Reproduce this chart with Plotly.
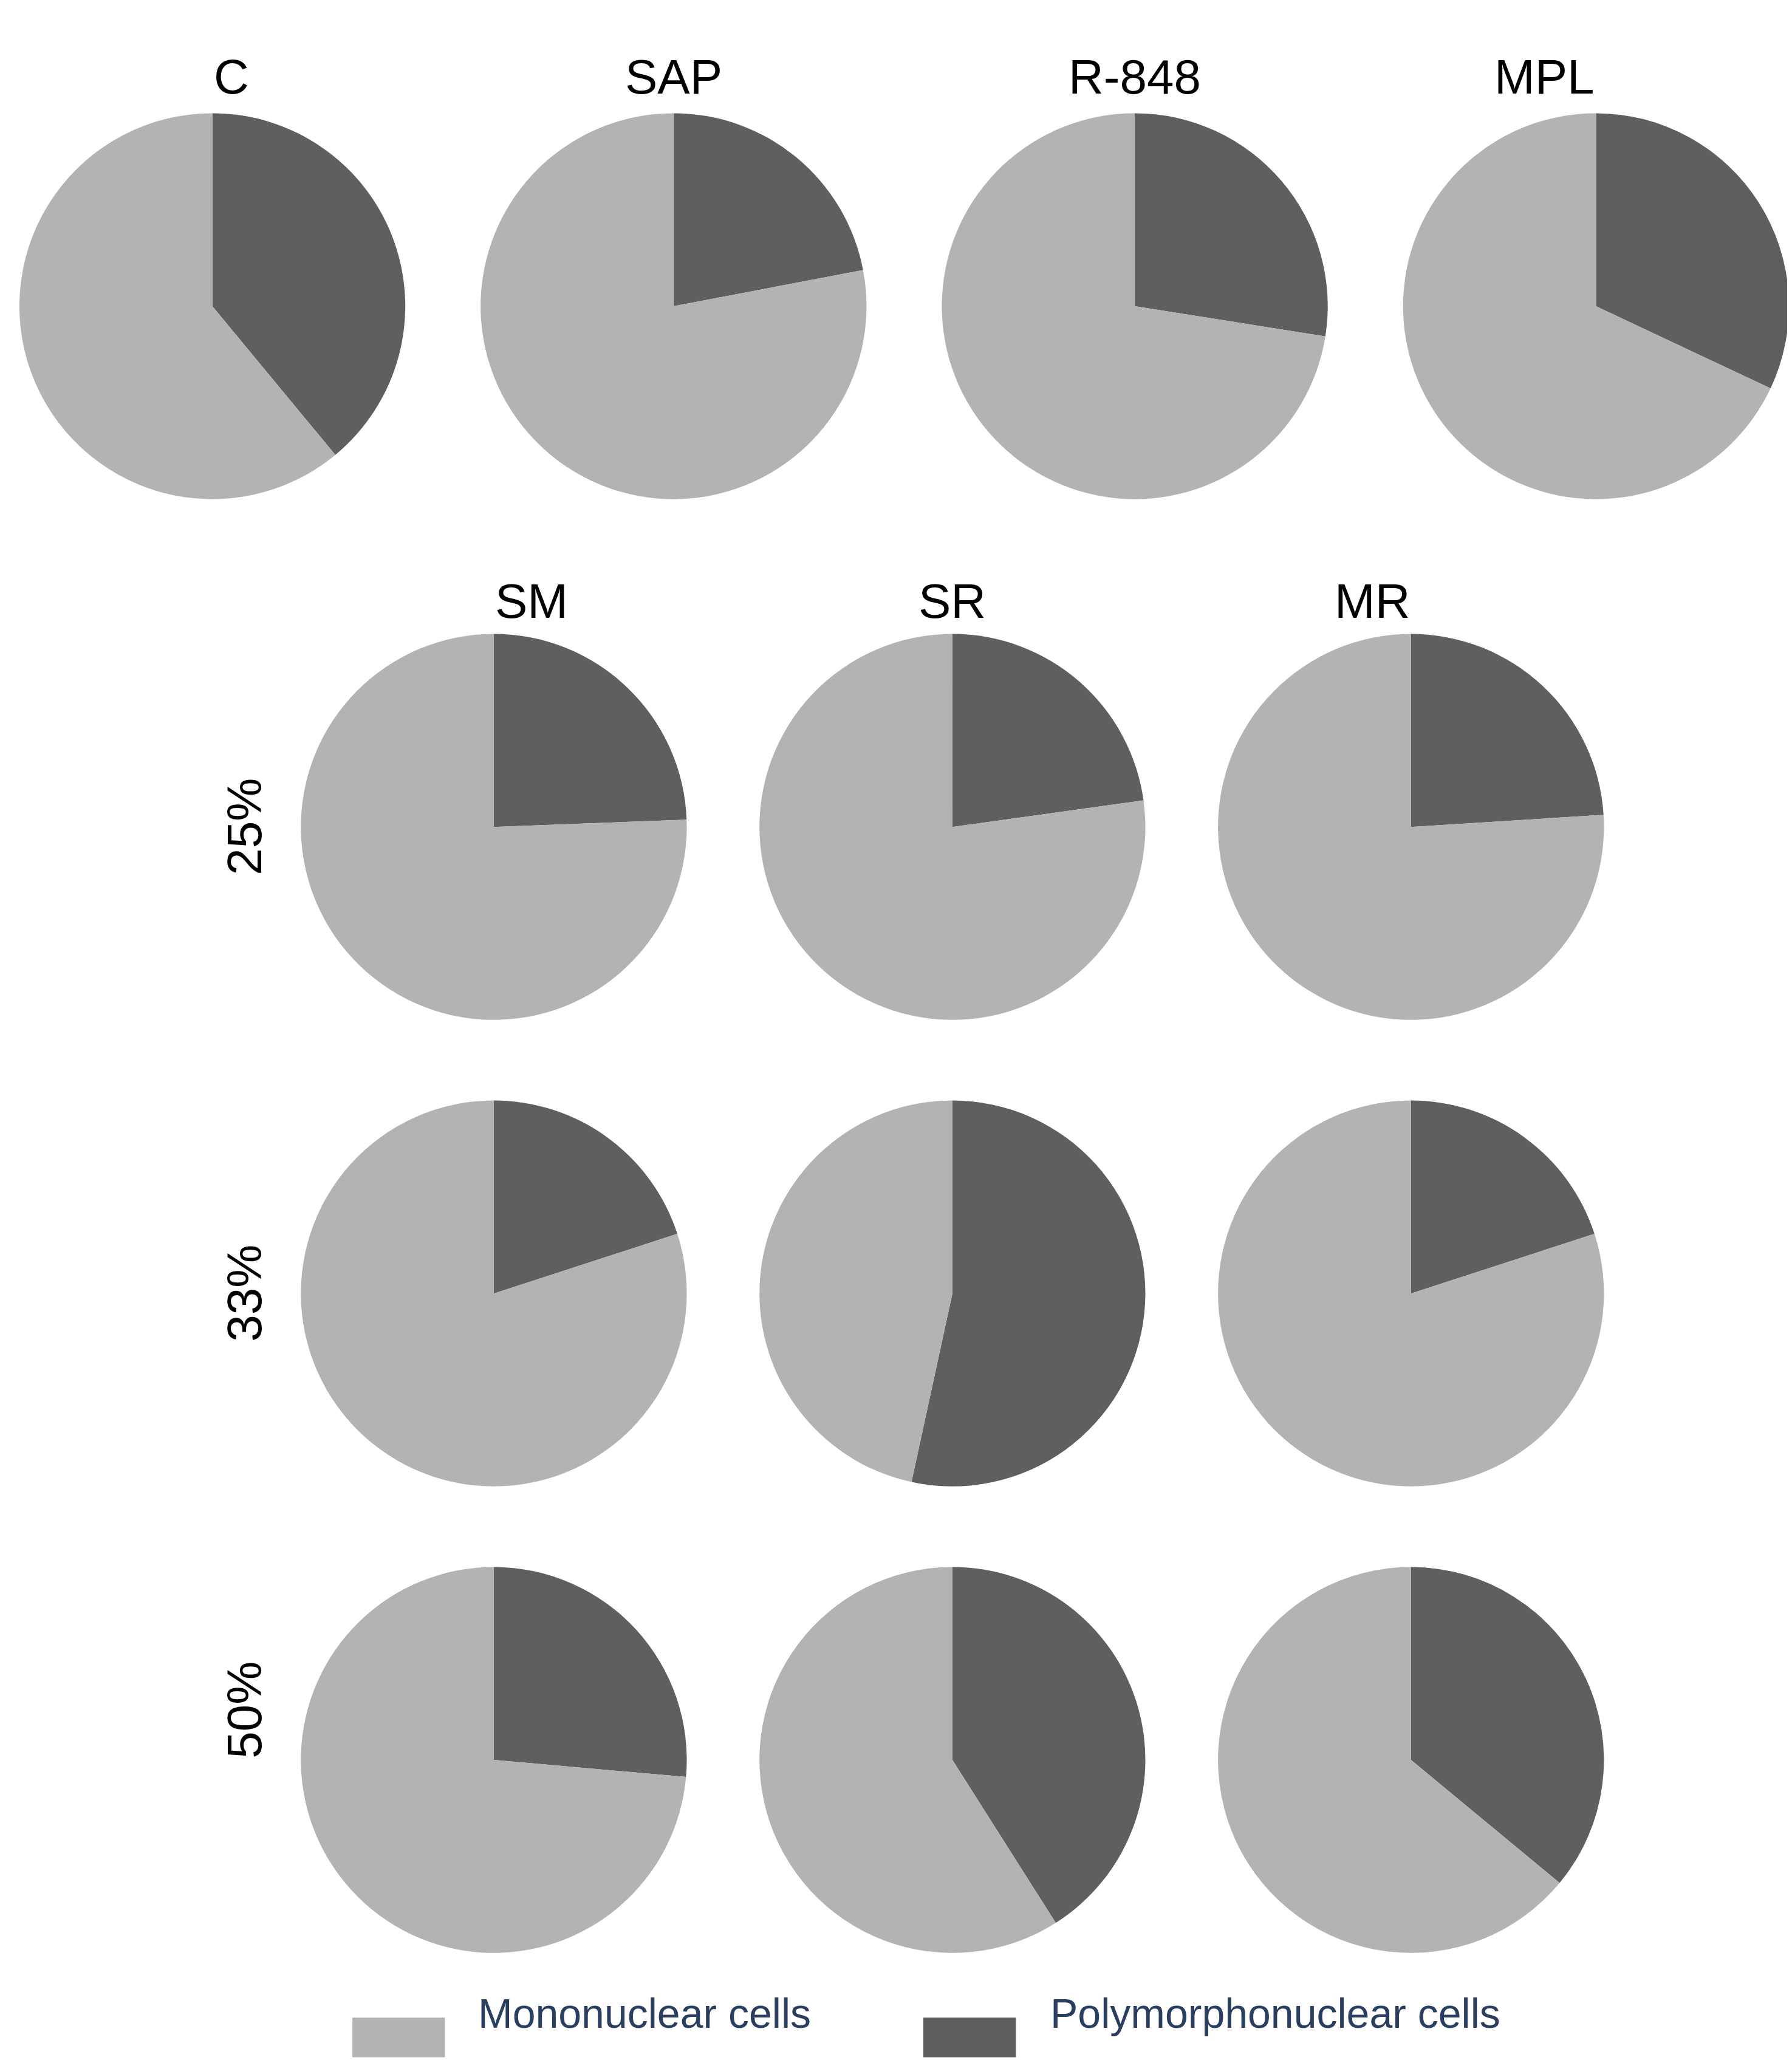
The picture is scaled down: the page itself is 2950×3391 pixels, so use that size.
import plotly.graph_objects as go

W, H = 2950, 3391
S = W / 1356
RH = H / S

top_names = ["C", "SAP", "R-848", "MPL"]
top_pmn = [39, 22, 27.5, 32]
grid_names = ["SM", "SR", "MR"]
row_labels = ["25%", "33%", "50%"]
grid_pmn = [[24.4, 22.8, 24], [20, 53.4, 20], [26.4, 41, 36]]
legend_labels = ["Mononuclear cells", "Polymorphonuclear cells"]
LIGHT, DARK = "#b3b3b3", "#5f5f5f"

fig = go.Figure()
R = 146

def add_pie(cx, cy, pmn):
    fig.add_trace(go.Pie(
        values=[pmn, 100 - pmn], labels=[legend_labels[1], legend_labels[0]],
        sort=False, direction="clockwise", rotation=0,
        marker=dict(colors=[DARK, LIGHT], line=dict(width=0)),
        textinfo="none", hoverinfo="skip", showlegend=False,
        domain=dict(x=[(cx - R) / 1356, (cx + R) / 1356],
                    y=[1 - (cy + R) / RH, 1 - (cy - R) / RH])))

font = dict(family="Liberation Sans, Arial", size=80, color="black")
top_x = [157, 506, 855, 1204]
for i, n in enumerate(top_names):
    add_pie(top_x[i], 228, top_pmn[i])
    fig.add_annotation(x=top_x[i] / 1356, y=1 - 33 / RH, text=n, showarrow=False,
                       xref="paper", yref="paper", font=font)
gx = [370, 717, 1064]
gy = [622, 975, 1328]
for j, n in enumerate(grid_names):
    fig.add_annotation(x=gx[j] / 1356, y=1 - 430 / RH, text=n, showarrow=False,
                       xref="paper", yref="paper", font=font)
for r in range(3):
    fig.add_annotation(x=160 / 1356, y=1 - gy[r] / RH, text=row_labels[r], showarrow=False,
                       textangle=-90, xref="paper", yref="paper", font=font)
    for j in range(3):
        add_pie(gx[j], gy[r], grid_pmn[r][j])

for x0, col, tx, lab in [(263, LIGHT, 357, legend_labels[0]), (695, DARK, 790, legend_labels[1])]:
    fig.add_shape(type="rect", xref="paper", yref="paper",
                  x0=x0 / 1356, x1=(x0 + 70) / 1356, y0=1 - 1553 / RH, y1=1 - 1523 / RH,
                  fillcolor=col, line=dict(width=0))
    fig.add_annotation(x=tx / 1356, y=1 - 1538 / RH, text=lab, showarrow=False, xanchor="left",
                       xref="paper", yref="paper", font=dict(family="Liberation Sans, Arial", size=68))

fig.update_layout(width=W, height=H, margin=dict(l=0, r=0, t=0, b=0),
                  paper_bgcolor="white", plot_bgcolor="white")
fig.write_html("out.html")
